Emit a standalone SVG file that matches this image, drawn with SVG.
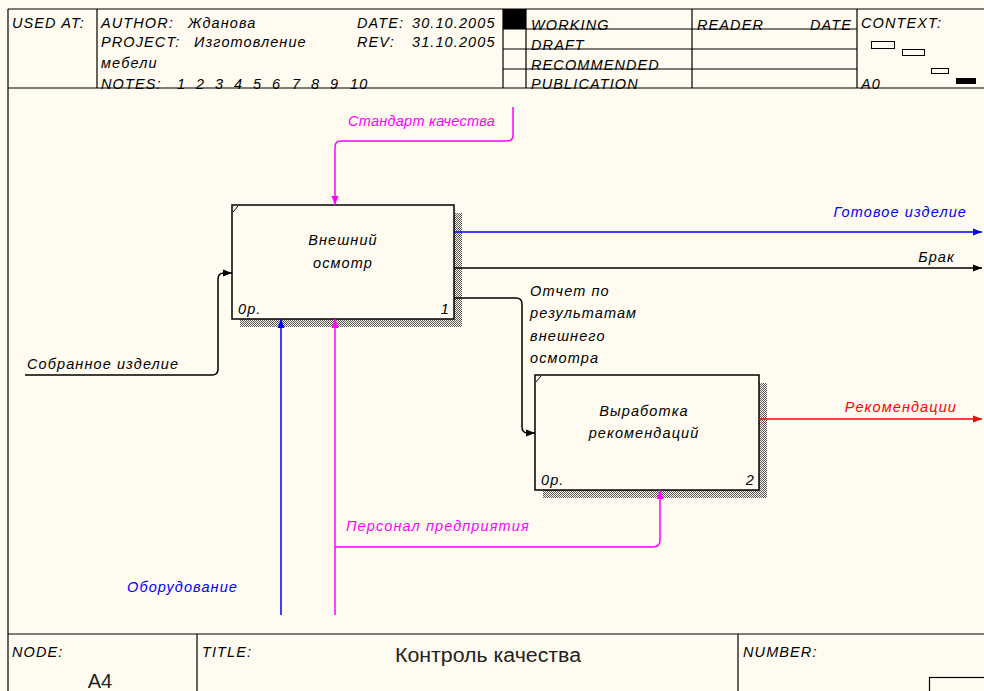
<svg xmlns="http://www.w3.org/2000/svg" width="984" height="691" viewBox="0 0 984 691">
<style>
.t{font-family:"Liberation Sans",Arial,sans-serif;font-style:italic;font-size:14.5px;letter-spacing:1.1px;fill:#000}
.fr{stroke:#000;stroke-width:1.2;fill:none}
.box{fill:#FFFBF0;stroke:#000;stroke-width:1.5}
.c{fill:none;stroke-width:1.5}
.k{stroke:#000}.b{stroke:#0000FF}.m{stroke:#FF00FF}.r{stroke:#FF0000}
.tb{fill:#0000FF}.tm{fill:#FF00FF}.tr{fill:#FF0000}
.n{font-family:"Liberation Sans",Arial,sans-serif;font-size:20px;fill:#222}
</style>
<defs>
<pattern id="hatch" width="2" height="2" patternUnits="userSpaceOnUse">
<rect width="2" height="2" fill="#FFFBF0"/>
<rect width="1" height="1" fill="#555"/>
<rect x="1" y="1" width="1" height="1" fill="#555"/>
</pattern>
<marker id="ak" markerUnits="userSpaceOnUse" markerWidth="10" markerHeight="8" refX="9" refY="4" orient="auto"><path d="M0,0.5 L9,4 L0,7.5 Z" fill="#000"/></marker>
<marker id="ab" markerUnits="userSpaceOnUse" markerWidth="10" markerHeight="8" refX="9" refY="4" orient="auto"><path d="M0,0.5 L9,4 L0,7.5 Z" fill="#0000FF"/></marker>
<marker id="am" markerUnits="userSpaceOnUse" markerWidth="10" markerHeight="8" refX="9" refY="4" orient="auto"><path d="M0,0.5 L9,4 L0,7.5 Z" fill="#FF00FF"/></marker>
<marker id="ar" markerUnits="userSpaceOnUse" markerWidth="10" markerHeight="8" refX="9" refY="4" orient="auto"><path d="M0,0.5 L9,4 L0,7.5 Z" fill="#FF0000"/></marker>
</defs>
<rect width="984" height="691" fill="#FFFBF0"/>

<g id="frame">
<path class="fr" d="M8,9 H984 M8,9 V691 M8,88 H984 M97,9 V88 M503,9 V88 M526,9 V88 M692,9 V88 M857,9 V88 M503,29 H857 M503,49 H857 M503,69 H857 M8,634 H984 M197,634 V691 M738,634 V691"/>
<rect x="503" y="9" width="23" height="20" fill="#000"/>
<rect x="929.5" y="677.5" width="60" height="20" fill="none" stroke="#000" stroke-width="1.2"/>
<g fill="none" stroke="#000" stroke-width="1">
<rect x="871.5" y="41.5" width="23" height="7"/>
<rect x="902.5" y="49.5" width="22" height="6"/>
<rect x="931.5" y="68.5" width="17" height="5"/>
</g>
<rect x="956" y="78" width="20" height="6" fill="#000"/>
<text class="t" x="12" y="28">USED AT:</text>
<text class="t" x="101" y="28">AUTHOR:</text>
<text class="t" x="188" y="28">Жданова</text>
<text class="t" x="357" y="28">DATE:</text>
<text class="t" x="412" y="28">30.10.2005</text>
<text class="t" x="101" y="47">PROJECT:</text>
<text class="t" x="194" y="47">Изготовление</text>
<text class="t" x="357" y="47">REV:</text>
<text class="t" x="412" y="47">31.10.2005</text>
<text class="t" x="101" y="68">мебели</text>
<text class="t" x="101" y="89">NOTES:<tspan x="177">1</tspan><tspan x="196">2</tspan><tspan x="215">3</tspan><tspan x="234">4</tspan><tspan x="253">5</tspan><tspan x="272">6</tspan><tspan x="292">7</tspan><tspan x="311">8</tspan><tspan x="330">9</tspan><tspan x="350">10</tspan></text>
<text class="t" x="531" y="30">WORKING</text>
<text class="t" x="531" y="50">DRAFT</text>
<text class="t" x="531" y="70">RECOMMENDED</text>
<text class="t" x="531" y="89">PUBLICATION</text>
<text class="t" x="697" y="30">READER</text>
<text class="t" x="852" y="30" text-anchor="end">DATE</text>
<text class="t" x="861" y="28">CONTEXT:</text>
<text class="t" x="861" y="89">A0</text>
<text class="t" x="12" y="657">NODE:</text>
<text class="t" x="202" y="657">TITLE:</text>
<text class="t" x="743" y="657">NUMBER:</text>
<text class="n" x="395" y="662" textLength="186" lengthAdjust="spacingAndGlyphs">Контроль качества</text>
<text class="n" x="100" y="688" text-anchor="middle" font-size="18">A4</text>
</g>

<g id="node-A41">
<rect x="240" y="213" width="222" height="114" fill="url(#hatch)"/>
<rect class="box" x="232" y="205" width="222" height="114"/>
<path d="M233,212 L238,206" stroke="#000" stroke-width="1"/>
<text class="t" x="343" y="245" text-anchor="middle">Внешний</text>
<text class="t" x="343" y="268" text-anchor="middle">осмотр</text>
<text class="t" x="238" y="314">0р.</text>
<text class="t" x="450" y="314" text-anchor="end">1</text>
</g>

<g id="node-A42">
<rect x="543" y="383" width="224" height="115" fill="url(#hatch)"/>
<rect class="box" x="535" y="375" width="224" height="115"/>
<path d="M536,382 L541,376" stroke="#000" stroke-width="1"/>
<text class="t" x="644" y="416" text-anchor="middle">Выработка</text>
<text class="t" x="644" y="438" text-anchor="middle">рекомендаций</text>
<text class="t" x="541" y="485">0р.</text>
<text class="t" x="755" y="485" text-anchor="end">2</text>
</g>

<g id="connectors">
<path class="c m" d="M513,107 V135 Q513,141 507,141 H341 Q335,141 335,147 V205" marker-end="url(#am)"/>
<path class="c b" d="M454,232 H982" marker-end="url(#ab)"/>
<path class="c k" d="M454,268 H982" marker-end="url(#ak)"/>
<path class="c k" d="M454,298 H516 Q522,298 522,304 V427 Q522,433 528,433 H535" marker-end="url(#ak)"/>
<path class="c r" d="M759,419 H982" marker-end="url(#ar)"/>
<path class="c k" d="M25,375 H212 Q218,375 218,369 V279 Q218,273 224,273 H232" marker-end="url(#ak)"/>
<path class="c b" d="M281,615 V319" marker-end="url(#ab)"/>
<path class="c m" d="M335,615 V319" marker-end="url(#am)"/>
<path class="c m" d="M335,547 H653 Q660,547 660,540 V490" marker-end="url(#am)"/>
</g>

<g id="labels">
<text class="t tm" x="348" y="126" textLength="148">Стандарт качества</text>
<text class="t tb" x="967" y="217" text-anchor="end">Готовое изделие</text>
<text class="t" x="955" y="262" text-anchor="end">Брак</text>
<text class="t" x="530" y="296">Отчет по</text>
<text class="t" x="530" y="318">результатам</text>
<text class="t" x="530" y="341">внешнего</text>
<text class="t" x="530" y="363">осмотра</text>
<text class="t tr" x="957" y="412" text-anchor="end">Рекомендации</text>
<text class="t" x="27" y="369">Собранное изделие</text>
<text class="t tm" x="346" y="531">Персонал предприятия</text>
<text class="t tb" x="127" y="592">Оборудование</text>
</g>
</svg>
